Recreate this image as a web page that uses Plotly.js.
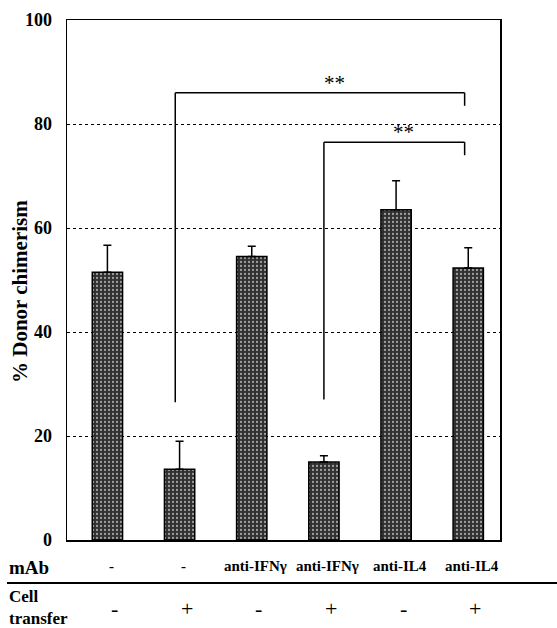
<!DOCTYPE html>
<html>
<head>
<meta charset="utf-8">
<script src="https://cdn.plot.ly/plotly-3.0.1.min.js"></script>
<style>html,body{margin:0;padding:0;background:#fff;}#chart{width:557px;height:628px;}</style>
</head>
<body>
<div id="chart"></div>
<script>
// Data
var mAbLabels = ["-", "-", "anti-IFNγ", "anti-IFNγ", "anti-IL4", "anti-IL4"];
var cellTransfer = ["-", "+", "-", "+", "-", "+"];
var chimerism = [51.5, 13.6, 54.5, 15.0, 63.5, 52.3];
var errUp = [5.2, 5.4, 2.0, 1.2, 5.6, 3.9];
var yTicks = [0, 20, 40, 60, 80, 100];
// significance brackets
var brackets = [
  {from: 0.94, to: 4.95, leftBottom: 26.5, top: 86, rightBottom: 83.5, label: "**", labelX: 3.15, labelY: 86.3},
  {from: 3.0, to: 4.95, leftBottom: 27, top: 76.5, rightBottom: 74, label: "**", labelX: 4.1, labelY: 77}
];

var idx = chimerism.map(function(_, i){ return i; });
var serif = "Liberation Serif, Times New Roman, serif";
var plotLeft = 67, plotW = 433;
var plotTop = 20, plotBottom = 540, plotH = plotBottom - plotTop;
function py(px){ return (plotBottom - px) / plotH; }
function px(p){ return (p - plotLeft) / plotW; }

var trace = {
  type: "bar",
  x: idx,
  y: chimerism,
  width: 0.42,
  marker: {
    color: "#444",
    line: {color: "#000", width: 1.5},
    pattern: {shape: ".", fgcolor: "#a0a0a0", bgcolor: "#303030", size: 4, solidity: 0.25}
  },
  error_y: {type: "data", symmetric: false, array: errUp, arrayminus: errUp.map(function(){return 0;}),
            color: "#000", thickness: 1.5, width: 4},
  hoverinfo: "none"
};

var shapes = [];
var annotations = [];
brackets.forEach(function(b){
  var ln = {color: "#000", width: 1.5};
  shapes.push({type: "line", xref: "x", yref: "y", x0: b.from, x1: b.from, y0: b.leftBottom, y1: b.top, line: ln});
  shapes.push({type: "line", xref: "x", yref: "y", x0: b.from, x1: b.to, y0: b.top, y1: b.top, line: ln});
  shapes.push({type: "line", xref: "x", yref: "y", x0: b.to, x1: b.to, y0: b.top, y1: b.rightBottom, line: ln});
  annotations.push({xref: "x", yref: "y", x: b.labelX, y: b.labelY, yanchor: "bottom",
    text: b.label, showarrow: false, font: {family: serif, size: 21, color: "#000"}, yshift: -6});
});

// y-axis title
annotations.push({xref: "paper", yref: "paper", x: px(20), y: py(292), xanchor: "center", yanchor: "middle",
  textangle: -90, text: "<b>% Donor chimerism</b>", showarrow: false, font: {family: serif, size: 21, color: "#000"}});

// table under the chart
shapes.push({type: "line", xref: "paper", yref: "paper", x0: px(7), x1: px(557), y0: py(583), y1: py(583), line: {color: "#000", width: 2}});
annotations.push({xref: "paper", yref: "paper", x: px(7), y: py(567), xanchor: "left", yanchor: "middle",
  text: "<b>mAb</b>", showarrow: false, font: {family: serif, size: 19, color: "#000"}});
annotations.push({xref: "paper", yref: "paper", x: px(7), y: py(607), xanchor: "left", yanchor: "middle", align: "left",
  text: "<b>Cell<br>transfer</b>", showarrow: false, font: {family: serif, size: 17, color: "#000"}});
idx.forEach(function(i){
  annotations.push({xref: "x", yref: "paper", x: i, y: py(566), yanchor: "middle", xshift: 4,
    text: "<b>" + mAbLabels[i] + "</b>", showarrow: false, font: {family: serif, size: 15, color: "#000"}});
  annotations.push({xref: "x", yref: "paper", x: i, y: py(608), yanchor: "middle", xshift: 7,
    text: cellTransfer[i], showarrow: false, font: {family: serif, size: 22, color: "#000"}});
});

var layout = {
  width: 557, height: 628,
  margin: {l: 67, r: 57, t: 20, b: 88},
  paper_bgcolor: "#fff", plot_bgcolor: "#fff",
  showlegend: false,
  xaxis: {range: [-0.56, 5.44], showticklabels: false, ticks: "", showgrid: false, zeroline: false,
          showline: true, linecolor: "#000", linewidth: 1.5, mirror: true, fixedrange: true},
  yaxis: {range: [0, 100], tickvals: yTicks, ticktext: yTicks.map(function(v){ return "<b>" + v + "</b>"; }), ticks: "",
          tickfont: {family: serif, size: 18, color: "#000"}, ticklabelstandoff: 10,
          showgrid: true, gridcolor: "#000", griddash: "dot", gridwidth: 1,
          zeroline: false, showline: true, linecolor: "#000", linewidth: 1.5, mirror: true},
  shapes: shapes,
  annotations: annotations
};

Plotly.newPlot("chart", [trace], layout, {staticPlot: true});
</script>
</body>
</html>
